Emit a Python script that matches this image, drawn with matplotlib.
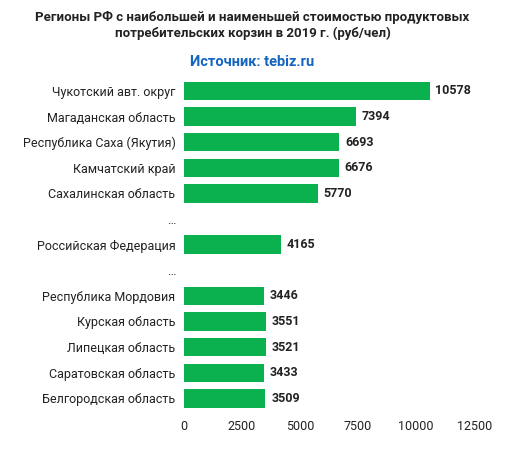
import matplotlib
matplotlib.use("Agg")
import matplotlib.pyplot as plt

categories = ["Чукотский авт. округ", "Магаданская область", "Республика Саха (Якутия)",
              "Камчатский край", "Сахалинская область", "…", "Российская Федерация", "…",
              "Республика Мордовия", "Курская область", "Липецкая область",
              "Саратовская область", "Белгородская область"]
values = [10578, 7394, 6693, 6676, 5770, None, 4165, None, 3446, 3551, 3521, 3433, 3509]
xticks = [0, 2500, 5000, 7500, 10000, 12500]

plt.rcParams['font.family'] = ['Roboto', 'DejaVu Sans']
fig = plt.figure(figsize=(5.05, 4.62), dpi=100)
ax = fig.add_axes([0.364, 0.110, 0.575, 0.721])
green = "#0cb14f"
for i, v in enumerate(values):
    if v is None:
        continue
    ax.barh(i, v, height=0.72, color=green)
    ax.text(v + 250, i, f"{v}", va="center", ha="left", fontsize=9, fontweight="bold", color="#222222")
ax.set_yticks(range(len(categories)))
ax.set_yticklabels(categories, fontsize=9, color="#222222")
ax.set_ylim(len(categories) - 0.5, -0.5)
ax.set_xlim(0, 12500)
ax.set_xticks(xticks)
ax.set_xticklabels([str(t) for t in xticks], fontsize=9, color="#222222")
ax.tick_params(length=0, pad=6)
for s in ax.spines.values():
    s.set_visible(False)
fig.text(0.5, 0.945, "Регионы РФ с наибольшей и наименьшей стоимостью продуктовых\nпотребительских корзин в 2019 г. (руб/чел)",
         ha="center", va="center", fontsize=9.5, fontweight="bold", color="#222222", linespacing=1.3)
fig.text(0.5, 0.866, "Источник: tebiz.ru", ha="center", va="center", fontsize=10.5,
         fontweight="bold", color="#1565c0")
fig.savefig("out.png", dpi=100, facecolor="white")
